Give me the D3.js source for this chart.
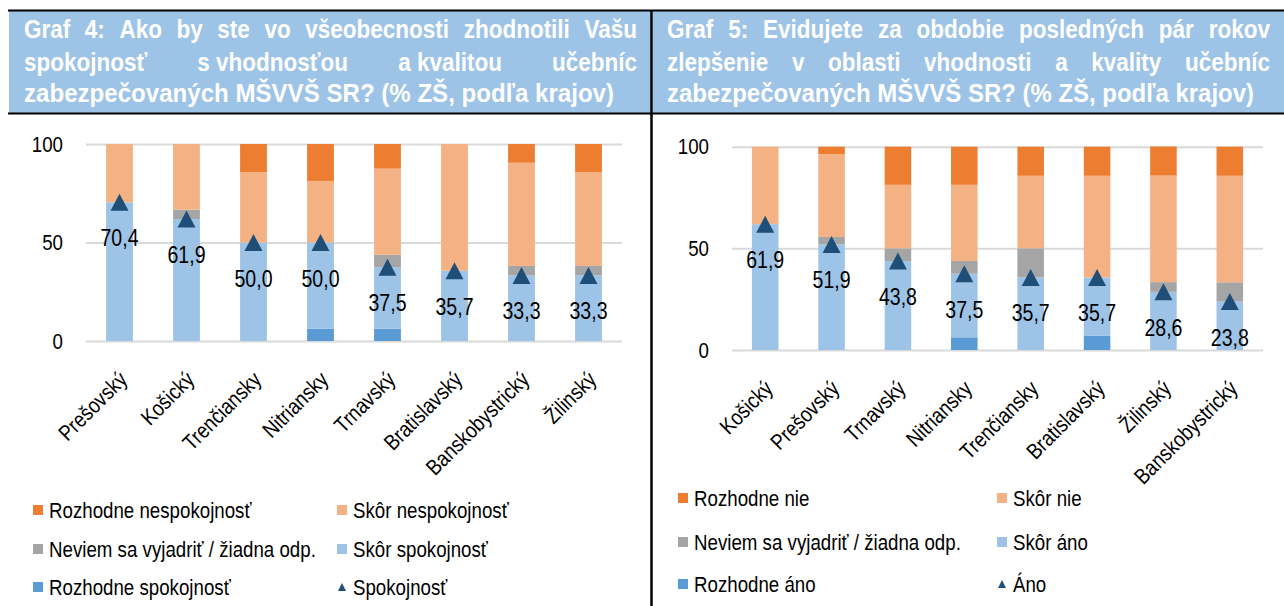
<!DOCTYPE html>
<html>
<head>
<meta charset="utf-8">
<script src="https://cdn.jsdelivr.net/npm/d3@7"></script>
<style>
  body { margin: 0; background: #fff; }
  svg { display: block; }
  text { font-family: "Liberation Sans", Arial, sans-serif; }
</style>
</head>
<body>
<div id="chart"></div>
<script>
// Graf 4 – spokojnosť
const regions4 = ['Prešovský', 'Košický', 'Trenčiansky', 'Nitriansky', 'Trnavský', 'Bratislavský', 'Banskobystrický', 'Žilinský'];
const rozhodneSpok4 = [0, 0, 0, 6.25, 6.25, 0, 0, 0];
const skorSpok4 = [70.4, 61.9, 50.0, 43.75, 31.25, 35.7, 33.3, 33.3];
const neviem4 = [0, 4.8, 0, 0, 6.25, 0, 4.8, 4.8];
const skorNespok4 = [29.6, 33.3, 35.7, 31.25, 43.75, 64.3, 52.4, 47.6];
const rozhodneNespok4 = [0, 0, 14.3, 18.75, 12.5, 0, 9.5, 14.3];
const spokojnost4 = [70.4, 61.9, 50.0, 50.0, 37.5, 35.7, 33.3, 33.3];

// Graf 5 – zlepšenie
const regions5 = ['Košický', 'Prešovský', 'Trnavský', 'Nitriansky', 'Trenčiansky', 'Bratislavský', 'Žilinský', 'Banskobystrický'];
const rozhodneAno5 = [0, 0, 0, 6.25, 0, 7.1, 0, 0];
const skorAno5 = [61.9, 51.9, 43.75, 31.25, 35.7, 28.6, 28.6, 23.8];
const neviem5 = [0, 3.7, 6.25, 6.25, 14.3, 0, 4.8, 9.5];
const skorNie5 = [38.1, 40.7, 31.25, 37.5, 35.7, 50.0, 52.4, 52.4];
const rozhodneNie5 = [0, 3.7, 18.75, 18.75, 14.3, 14.3, 14.3, 14.3];
const ano5 = [61.9, 51.9, 43.8, 37.5, 35.7, 35.7, 28.6, 23.8];

const yTicks = [0, 50, 100];

const keys = ['rs', 'ss', 'nv', 'sn', 'rn'];
const color = d3.scaleOrdinal()
  .domain(keys)
  .range(['#5B9BD5', '#9DC3E6', '#A5A5A5', '#F4B183', '#ED7D31']);
const markerColor = '#1F4E79';

const width = 1284, height = 606;
const svg = d3.select('#chart').append('svg')
  .attr('width', width)
  .attr('height', height);

// the original uses a narrow font, so squeeze the glyphs horizontally
const K = 0.85;
function squeeze(sel, k) {
  sel.each(function() {
    const s = d3.select(this);
    const anchor = getComputedStyle(this).textAnchor;
    const w = this.getComputedTextLength() * k;
    const x = +s.attr('x') || 0;
    let nx = x;
    if (anchor === 'end') nx = x - w;
    else if (anchor === 'middle') nx = x - w / 2;
    s.attr('text-anchor', 'start')
      .attr('x', nx)
      .attr('textLength', w)
      .attr('lengthAdjust', 'spacingAndGlyphs');
  });
}

function title(lines, x0, x1, lastWidth) {
  const g = svg.append('g')
    .attr('fill', '#fff')
    .attr('font-weight', 'bold')
    .attr('font-size', 25);
  const baselines = [37.5, 70.5, 102];
  lines.forEach((words, i) => {
    if (i === lines.length - 1) {
      g.append('text').attr('x', x0).attr('y', baselines[i]).text(words.join(' '))
        .attr('textLength', lastWidth).attr('lengthAdjust', 'spacingAndGlyphs');
      return;
    }
    const t = words.map(w => g.append('text').attr('y', baselines[i]).text(w).call(squeeze, 0.9));
    const widths = t.map(s => +s.attr('textLength'));
    const gap = (x1 - x0 - d3.sum(widths)) / (words.length - 1);
    let x = x0;
    t.forEach((s, j) => { s.attr('x', x); x += widths[j] + gap; });
  });
}

function panel(cfg) {
  const x = d3.scaleBand()
    .domain(cfg.regions)
    .range([cfg.left, cfg.right])
    .paddingInner(0.6)
    .paddingOuter(0.3);
  const y = d3.scaleLinear()
    .domain([0, 100])
    .range([cfg.bottom, cfg.top]);

  // gridlines + y labels
  const yAxis = svg.append('g')
    .attr('transform', `translate(${cfg.left},0)`)
    .call(d3.axisLeft(y).tickValues(yTicks).tickSize(-(cfg.right - cfg.left)).tickPadding(23))
    .call(g => g.select('.domain').remove());
  yAxis.selectAll('line').attr('stroke', '#D9D9D9').attr('stroke-width', 2);
  yAxis.selectAll('text')
    .attr('font-size', 22)
    .attr('font-family', '"Liberation Sans", Arial, sans-serif')
    .attr('fill', '#000')
    .call(squeeze, K);

  const rows = cfg.regions.map((r, i) => ({
    region: r,
    rs: cfg.series[0][i], ss: cfg.series[1][i], nv: cfg.series[2][i],
    sn: cfg.series[3][i], rn: cfg.series[4][i]
  }));
  const stacked = d3.stack().keys(keys)(rows);

  svg.append('g')
    .selectAll('g')
    .data(stacked)
    .join('g')
    .attr('fill', d => color(d.key))
    .selectAll('rect')
    .data(d => d)
    .join('rect')
    .attr('x', d => x(d.data.region))
    .attr('y', d => y(d[1]))
    .attr('width', x.bandwidth())
    .attr('height', d => y(d[0]) - y(d[1]));

  // triangles
  const tri = d => {
    const cx = x(d.region) + x.bandwidth() / 2, cy = y(d.value);
    return `M${cx - 9},${cy + 8.5}L${cx + 9},${cy + 8.5}L${cx},${cy - 8.5}Z`;
  };
  const marks = cfg.regions.map((r, i) => ({ region: r, value: cfg.marker[i] }));
  svg.append('g')
    .selectAll('path')
    .data(marks)
    .join('path')
    .attr('d', tri)
    .attr('fill', markerColor);

  svg.append('g')
    .selectAll('text')
    .data(marks)
    .join('text')
    .attr('x', d => x(d.region) + x.bandwidth() / 2)
    .attr('y', d => y(d.value) + 44)
    .attr('text-anchor', 'middle')
    .attr('font-size', 23)
    .attr('fill', '#000')
    .text(d => d3.format('.1f')(d.value).replace('.', ','))
    .call(squeeze, K);

  // x labels
  const xAxis = svg.append('g')
    .attr('transform', `translate(0,${cfg.bottom})`)
    .call(d3.axisBottom(x).tickSize(0))
    .call(g => g.select('.domain').remove());
  xAxis.selectAll('text')
    .attr('font-size', 22)
    .attr('font-family', '"Liberation Sans", Arial, sans-serif')
    .attr('fill', '#000')
    .attr('text-anchor', 'end')
    .attr('x', 0).attr('y', 0).attr('dy', 0)
    .attr('transform', 'translate(9,40) rotate(-45)')
    .call(squeeze, K);

  // legend
  const lg = svg.append('g').attr('font-size', 22).attr('fill', '#000');
  cfg.legend.forEach((item, i) => {
    const col = i % 2, row = Math.floor(i / 2);
    const lx = cfg.legendX[col], ly = cfg.legendY[row];
    if (item.key === 'marker') {
      lg.append('path')
        .attr('d', `M${lx + 1},${ly + 4}L${lx + 9},${ly + 4}L${lx + 5},${ly - 4}Z`)
        .attr('fill', markerColor);
    } else {
      lg.append('rect')
        .attr('x', lx).attr('y', ly - 5)
        .attr('width', 10).attr('height', 10)
        .attr('fill', color(item.key));
    }
    lg.append('text')
      .attr('x', lx + 16).attr('y', ly)
      .attr('dy', '0.35em')
      .text(item.label)
      .call(squeeze, K);
  });
}

// header boxes
svg.append('rect').attr('x', 9).attr('y', 11).attr('width', 642).attr('height', 102).attr('fill', '#9DC3E6');
svg.append('rect').attr('x', 653).attr('y', 11).attr('width', 631).attr('height', 102).attr('fill', '#9DC3E6');
svg.append('line').attr('x1', 8).attr('x2', 1284).attr('y1', 10.5).attr('y2', 10.5).attr('stroke', '#000').attr('stroke-width', 2);
svg.append('line').attr('x1', 8).attr('x2', 1284).attr('y1', 113.5).attr('y2', 113.5).attr('stroke', '#000').attr('stroke-width', 2);
svg.append('line').attr('x1', 651.5).attr('x2', 651.5).attr('y1', 10).attr('y2', 606).attr('stroke', '#000').attr('stroke-width', 2.5);

title([
  ['Graf', '4:', 'Ako', 'by', 'ste', 'vo', 'všeobecnosti', 'zhodnotili', 'Vašu'],
  ['spokojnosť', 's vhodnosťou', 'a kvalitou', 'učebníc'],
  ['zabezpečovaných', 'MŠVVŠ', 'SR?', '(%', 'ZŠ,', 'podľa', 'krajov)']
], 24, 637, 590);
title([
  ['Graf', '5:', 'Evidujete', 'za', 'obdobie', 'posledných', 'pár', 'rokov'],
  ['zlepšenie', 'v', 'oblasti', 'vhodnosti', 'a', 'kvality', 'učebníc'],
  ['zabezpečovaných', 'MŠVVŠ', 'SR?', '(%', 'ZŠ,', 'podľa', 'krajov)']
], 667, 1270, 587);

panel({
  regions: regions4,
  series: [rozhodneSpok4, skorSpok4, neviem4, skorNespok4, rozhodneNespok4],
  marker: spokojnost4,
  left: 86, right: 622, top: 144, bottom: 341,
  legendX: [33, 337], legendY: [510, 549, 587],
  legend: [
    { key: 'rn', label: 'Rozhodne nespokojnosť' },
    { key: 'sn', label: 'Skôr nespokojnosť' },
    { key: 'nv', label: 'Neviem sa vyjadriť / žiadna odp.' },
    { key: 'ss', label: 'Skôr spokojnosť' },
    { key: 'rs', label: 'Rozhodne spokojnosť' },
    { key: 'marker', label: 'Spokojnosť' }
  ]
});

panel({
  regions: regions5,
  series: [rozhodneAno5, skorAno5, neviem5, skorNie5, rozhodneNie5],
  marker: ano5,
  left: 732, right: 1263, top: 146.7, bottom: 350,
  legendX: [678, 997], legendY: [498, 542, 584],
  legend: [
    { key: 'rn', label: 'Rozhodne nie' },
    { key: 'sn', label: 'Skôr nie' },
    { key: 'nv', label: 'Neviem sa vyjadriť / žiadna odp.' },
    { key: 'ss', label: 'Skôr áno' },
    { key: 'rs', label: 'Rozhodne áno' },
    { key: 'marker', label: 'Áno' }
  ]
});
</script>
</body>
</html>
